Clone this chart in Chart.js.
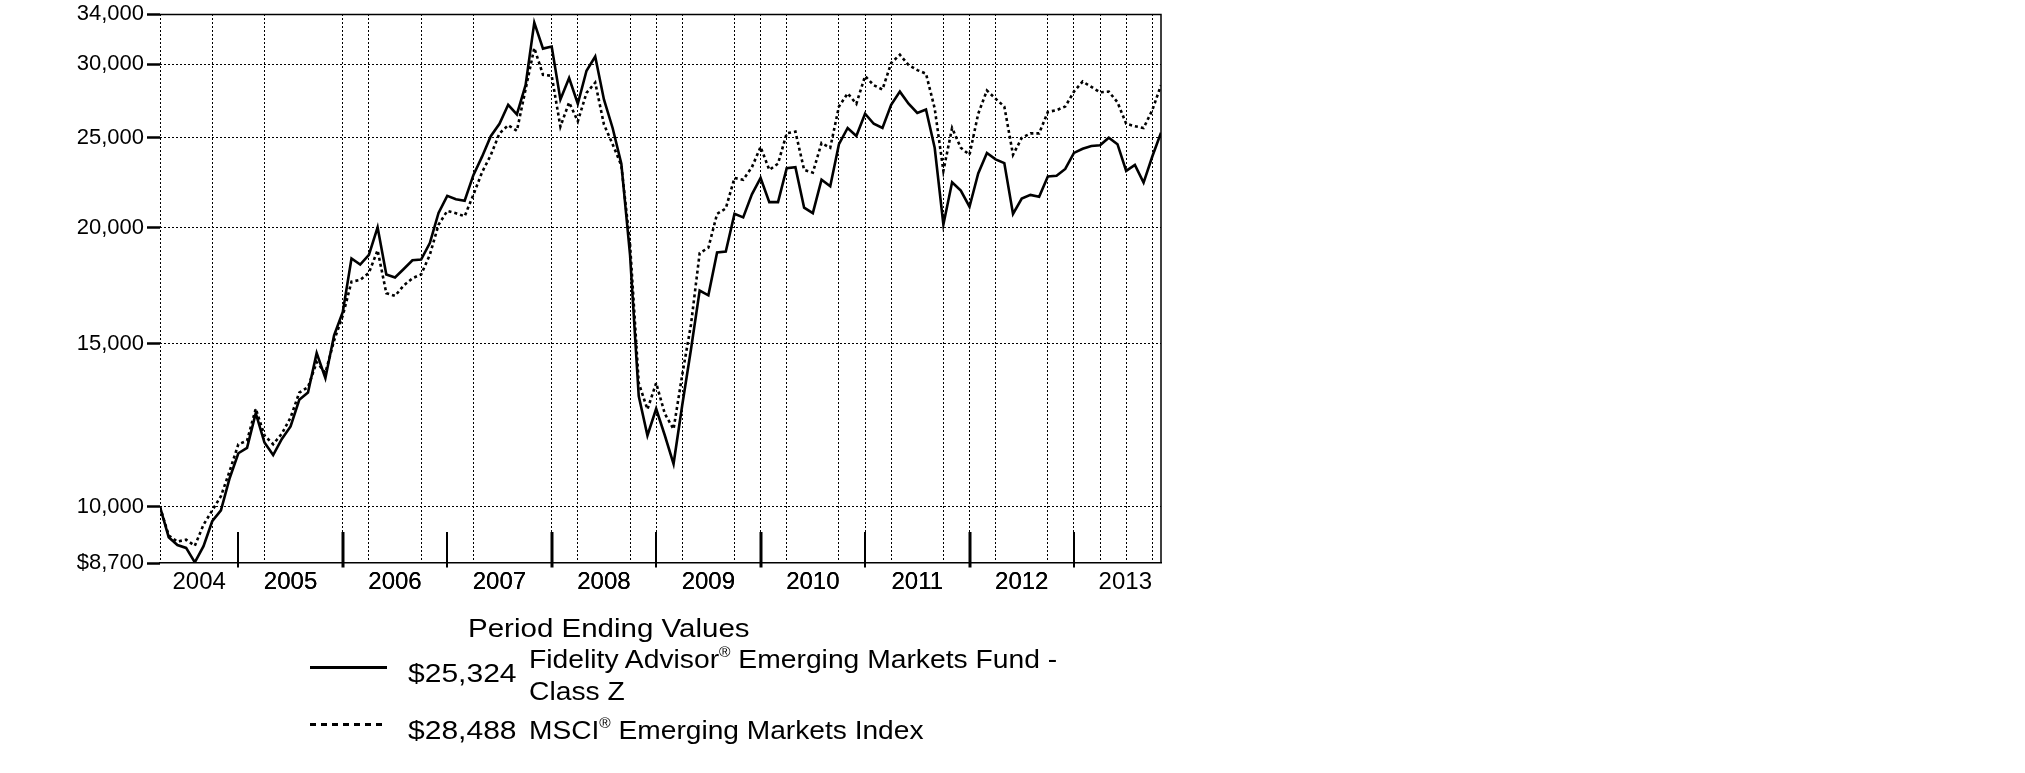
<!DOCTYPE html>
<html>
<head>
<meta charset="utf-8">
<script src="https://cdn.jsdelivr.net/npm/chart.js@4.4.1/dist/chart.umd.min.js"></script>
<style>
html,body{margin:0;padding:0;background:#fff;}
#wrap{position:relative;width:2025px;height:773px;overflow:hidden;background:#fff;}
#chart{position:absolute;left:0;top:0;}
.t{position:absolute;font-family:"Liberation Sans",Arial,Helvetica,sans-serif;color:#000;line-height:1;white-space:nowrap;font-size:26px;transform-origin:0 50%;}
.t .r{font-size:0.55em;position:relative;top:-0.75em;}
.sample{position:absolute;}
</style>
</head>
<body>
<div id="wrap">
<canvas id="chart" width="2025" height="773"></canvas>
<div class="t" style="left:468px;top:615px;transform:scaleX(1.135)">Period Ending Values</div>
<div class="sample" style="left:310px;top:666.3px;width:77px;height:2.8px;background:#000"></div>
<div class="t" style="left:408px;top:660px;transform:scaleX(1.155)">$25,324</div>
<div class="t" style="left:529px;top:646px;transform:scaleX(1.087)">Fidelity Advisor<span class="r">®</span> Emerging Markets Fund -</div>
<div class="t" style="left:529px;top:678px;transform:scaleX(1.087)">Class Z</div>
<div class="sample" style="left:310px;top:723.1px;width:77px;height:2.8px;background:repeating-linear-gradient(to right,#000 0 6px,transparent 6px 11px)"></div>
<div class="t" style="left:408px;top:717px;transform:scaleX(1.155)">$28,488</div>
<div class="t" style="left:529px;top:717px;transform:scaleX(1.082)">MSCI<span class="r">®</span> Emerging Markets Index</div>
</div>
<script>
// Monthly values, month index 0 .. 115 (period ending values)
const fundValues = [10000, 9276, 9096, 9032, 8715, 9072, 9651, 9913, 10738, 11425,
  11578, 12619, 11733, 11374, 11838, 12213, 13047, 13281, 14649, 13767,
  15314, 16223, 18528, 18251, 18694, 20020, 17810, 17675, 18050, 18450,
  18480, 19250, 20750, 21650, 21470, 21390, 22790, 23860, 25100, 25890,
  27140, 26500, 28500, 33280, 31200, 31360, 27500, 29000, 27210, 29530,
  30590, 27500, 25620, 23450, 18700, 13165, 11940, 12760, 11940, 11130,
  12880, 14780, 17110, 16910, 18810, 18850, 20700, 20520, 21730, 22630,
  21310, 21310, 23180, 23240, 21020, 20740, 22530, 22170, 24610, 25620,
  25120, 26540, 25890, 25620, 27140, 28040, 27210, 26590, 26820, 24390,
  20160, 22390, 21930, 21070, 22880, 24080, 23700, 23480, 20700, 21500,
  21700, 21600, 22710, 22750, 23140, 24080, 24330, 24500, 24540, 25010,
  24610, 23030, 23380, 22370, 23870, 25324];
const indexValues = [10000, 9316, 9176, 9218, 9080, 9567, 9913, 10270, 10929, 11683,
  11786, 12762, 11943, 11683, 11996, 12484, 13281, 13460, 14325, 13949,
  15114, 16081, 17492, 17570, 17882, 18912, 17000, 16885, 17330, 17640,
  17810, 18700, 20150, 20850, 20730, 20580, 21700, 22950, 23950, 25275,
  25800, 25440, 28200, 31250, 29240, 29160, 25710, 27300, 26050, 27950,
  28680, 25850, 24610, 23340, 19200, 13600, 12740, 13600, 12600, 12130,
  13890, 15720, 18780, 19030, 20700, 20980, 22630, 22530, 23240, 24440,
  23090, 23450, 25280, 25390, 23090, 22930, 24680, 24390, 27020, 27920,
  27210, 29140, 28490, 28190, 30100, 30730, 29950, 29580, 29320, 26900,
  23030, 25620, 24390, 23970, 26540, 28120, 27550, 27020, 23970, 24990,
  25280, 25280, 26660, 26780, 27020, 28040, 28750, 28370, 27990, 28040,
  27310, 25890, 25730, 25620, 26780, 28488];
const seriesNames = ['Fidelity Advisor® Emerging Markets Fund - Class Z', 'MSCI® Emerging Markets Index'];
const yTickValues = [8700, 10000, 15000, 20000, 25000, 30000, 34000];
const yearLabels = ['2004', '2005', '2006', '2007', '2008', '2009', '2010', '2011', '2012', '2013'];
const yearLabelPos = [4.5, 15, 27, 39, 51, 63, 75, 87, 99, 110.9];
const yearBoundaries = [9, 21, 33, 45, 57, 69, 81, 93, 105];
const hiddenQuarterLines = [3, 9, 18, 27, 33, 42];

const lastIndex = fundValues.length - 1;
const quarterTicks = [];
for (let q = 0; q < lastIndex; q += 3) quarterTicks.push(q);
const labelAt = new Map(yearLabelPos.map((p, i) => [p, yearLabels[i]]));

const toPoints = arr => arr.map((v, i) => ({x: i, y: v}));
const FONT = "'Liberation Sans', Arial, Helvetica, sans-serif";

const framePlugin = {
  id: 'frame',
  afterDraw(chart) {
    const {ctx, chartArea: a, scales: {x}} = chart;
    ctx.save();
    ctx.strokeStyle = '#000';
    ctx.lineWidth = 1.5;
    ctx.beginPath();
    ctx.moveTo(a.left, a.top + 0.5);
    ctx.lineTo(a.right, a.top + 0.5);
    ctx.lineTo(a.right, a.bottom);
    ctx.stroke();
    yearBoundaries.forEach((m, k) => {
      const px = Math.round(x.getPixelForValue(m));
      ctx.lineWidth = (k % 2) ? 3 : 2;
      ctx.beginPath();
      ctx.moveTo(px, a.bottom - 31);
      ctx.lineTo(px, a.bottom + 4.5);
      ctx.stroke();
    });
    ctx.restore();
  }
};

new Chart(document.getElementById('chart'), {
  type: 'line',
  data: {
    datasets: [
      {label: seriesNames[0], data: toPoints(fundValues), borderColor: '#000', borderWidth: 2.6,
       pointRadius: 0, fill: false, tension: 0},
      {label: seriesNames[1], data: toPoints(indexValues), borderColor: '#000', borderWidth: 2.6,
       borderDash: [3, 3], pointRadius: 0, fill: false, tension: 0}
    ]
  },
  options: {
    responsive: false,
    devicePixelRatio: 1,
    animation: false,
    layout: {padding: {left: 0, right: 864, top: 14, bottom: 0}},
    plugins: {legend: {display: false}, tooltip: {enabled: false}},
    scales: {
      x: {
        type: 'linear',
        min: 0,
        max: lastIndex,
        afterBuildTicks: s => {
          const vals = quarterTicks.concat(yearLabelPos).sort((a, b) => a - b);
          s.ticks = vals.map(v => ({value: v}));
        },
        afterFit: s => { s.height = 210; },
        grid: {
          drawTicks: false,
          lineWidth: 1,
          color: c => {
            const v = c.tick ? c.tick.value : null;
            if (v === null || labelAt.has(v) || hiddenQuarterLines.includes(v)) return 'rgba(0,0,0,0)';
            return '#000';
          }
        },
        border: {display: true, color: '#000', width: 1.5, dash: [2, 2]},
        ticks: {
          autoSkip: false,
          maxRotation: 0,
          padding: 5,
          color: '#000',
          font: {family: FONT, size: 24},
          callback: v => labelAt.has(v) ? labelAt.get(v) : ''
        }
      },
      y: {
        type: 'logarithmic',
        min: 8700,
        max: 34000,
        afterBuildTicks: s => { s.ticks = yTickValues.map(v => ({value: v})); },
        afterFit: s => { s.width = 160; },
        grid: {
          drawTicks: true,
          tickLength: 13,
          tickWidth: 2.5,
          tickColor: '#000',
          lineWidth: 1,
          color: c => {
            const v = c.tick ? c.tick.value : null;
            return (v === 8700 || v === 34000) ? 'rgba(0,0,0,0)' : '#000';
          }
        },
        border: {display: false, dash: [2, 2]},
        ticks: {
          padding: 3,
          color: '#000',
          font: {family: FONT, size: 22, lineHeight: 1},
          callback: v => (v === 8700 ? '$' : '') + Number(v).toLocaleString('en-US')
        }
      }
    }
  },
  plugins: [framePlugin]
});
</script>
</body>
</html>
